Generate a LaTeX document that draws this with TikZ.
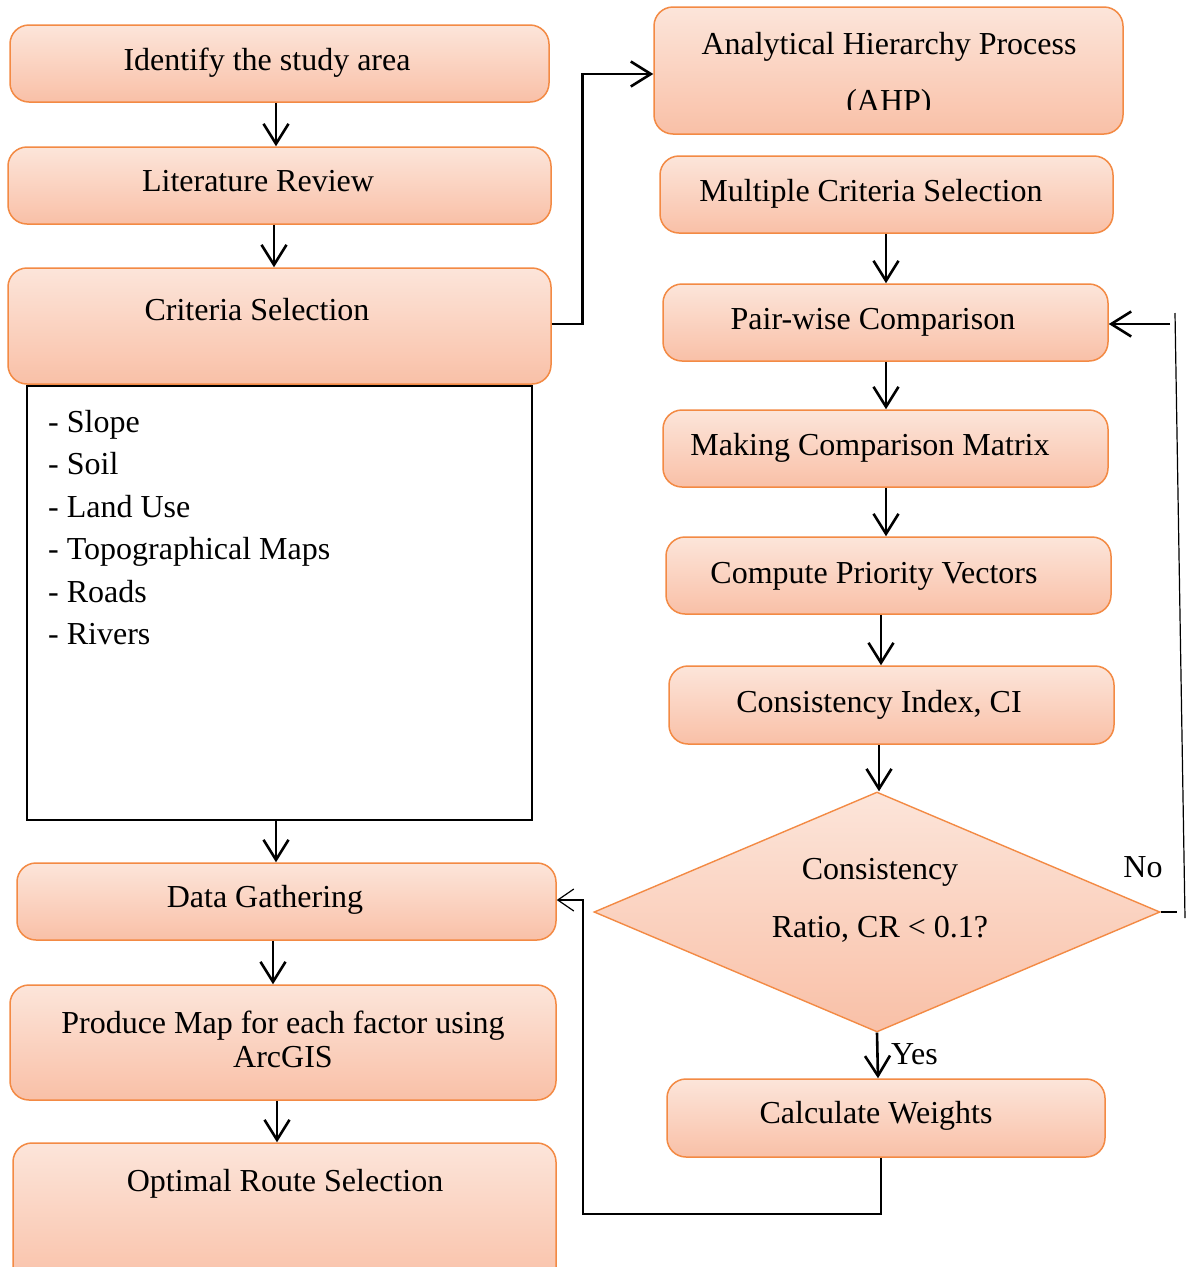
\documentclass[tikz,border=0pt]{standalone}
\usepackage{fontspec}
\setmainfont{Liberation Serif}
\usetikzlibrary{arrows.meta,shapes.geometric}
\definecolor{boxtop}{RGB}{252,229,218}
\definecolor{boxbot}{RGB}{249,192,167}
\definecolor{boxline}{RGB}{243,138,68}

\begin{document}
\begin{tikzpicture}[x=1pt,y=-1pt,
  box/.style={draw=boxline, line width=1.5pt, rounded corners=19pt,
    top color=boxtop, bottom color=boxbot, inner sep=0pt},
  decision/.style={diamond, draw=boxline, line width=1.4pt,
    top color=boxtop, bottom color=boxbot, inner sep=0pt},
  listbox/.style={draw=black, line width=2.2pt, inner sep=0pt},
  txt/.style={font=\fontsize{32}{38}\selectfont, inner sep=0pt, text=black},
  arr/.style={-{Straight Barb[length=20pt,width=25pt]}, line width=2.6pt, black},
  thinarr/.style={-{Straight Barb[length=16pt,width=22pt]}, line width=1.2pt, black},
  thinline/.style={line width=1.2pt, black}]

\useasboundingbox (0,0) rectangle (1192,1267);
\fill[white] (0,0) rectangle (1192,1267);

% ---------- left column ----------
\node[box, minimum width=539, minimum height=77] (b1) at (279.5,63.5) {};
\node[txt, anchor=base] (b1t) at (267,70) {Identify the study area};

\node[box, minimum width=543, minimum height=77] (b2) at (279.5,185.5) {};
\node[txt, anchor=base] (b2t) at (258,191) {Literature Review};

\node[box, minimum width=543, minimum height=116] (b3) at (279.5,326) {};
\node[txt, anchor=base] (b3t) at (257,320) {Criteria Selection};

\node[listbox, minimum width=505, minimum height=434] (lst) at (279.5,603) {};
\node[txt, anchor=north west, align=left, font=\fontsize{32}{42.4}\selectfont]
  (lstt) at (48,410) {- Slope\\- Soil\\- Land Use\\- Topographical Maps\\- Roads\\- Rivers};

\node[box, minimum width=539, minimum height=77] (b4) at (286.5,901.5) {};
\node[txt, anchor=base] (b4t) at (265,907) {Data Gathering};

\node[box, minimum width=546, minimum height=115] (b5) at (283,1042.5) {};
\node[txt, align=center, font=\fontsize{32}{34}\selectfont] (b5t) at (283,1039)
  {Produce Map for each factor using\\ArcGIS};

\node[box, minimum width=543, minimum height=147] (b6) at (284.5,1216.5) {};
\node[txt, anchor=base] (b6t) at (285,1191) {Optimal Route Selection};

% ---------- right column ----------
\node[box, minimum width=469, minimum height=127] (ahp) at (888.5,70.5) {};
\begin{scope}
  \clip (654,7) rectangle (1123,109);
  \node[txt, anchor=north, align=center, font=\fontsize{32}{57}\selectfont]
    (ahpt) at (889,32) {Analytical Hierarchy Process\\(AHP)};
\end{scope}

\node[box, minimum width=453, minimum height=77] (mcs) at (886.5,194.5) {};
\node[txt, anchor=base] (mcst) at (871,201) {Multiple Criteria Selection};

\node[box, minimum width=445, minimum height=77] (pair) at (885.5,322.5) {};
\node[txt, anchor=base] (pairt) at (873,329) {Pair-wise Comparison};

\node[box, minimum width=445, minimum height=77] (mat) at (885.5,448.5) {};
\node[txt, anchor=base] (matt) at (870,455) {Making Comparison Matrix};

\node[box, minimum width=445, minimum height=77] (vec) at (888.5,575.5) {};
\node[txt, anchor=base] (vect) at (874,583) {Compute Priority Vectors};

\node[box, minimum width=445, minimum height=78] (ci) at (891.5,705) {};
\node[txt, anchor=base] (cit) at (879,712) {Consistency Index, CI};

\node[decision, minimum width=566, minimum height=240] (dia) at (877,912) {};
\node[txt, anchor=north, align=center, font=\fontsize{32}{58}\selectfont]
  (diat) at (880,858) {Consistency\\Ratio, CR < 0.1?};

\node[box, minimum width=438, minimum height=78] (cw) at (886,1118) {};
\node[txt, anchor=base] (cwt) at (876,1123) {Calculate Weights};

% ---------- connectors ----------
\draw[arr] ([xshift=-3.5]b1.south) -- ([xshift=-3.5]b2.north);
\draw[arr] ([xshift=-5.5]b2.south) -- ([xshift=-5.5]b3.north);
\draw[arr] ([xshift=-3.5]lst.south) -- ([xshift=-10.5]b4.north);
\draw[arr] ([xshift=-13.5]b4.south) -- ([xshift=-10]b5.north);
\draw[arr] ([xshift=-6]b5.south) -- ([xshift=-7.5]b6.north);

\draw[arr] ([yshift=2]b3.east) -- ++(31,0) |- ([yshift=-3.5]ahp.west);

\draw[arr] ([xshift=-0.5]mcs.south) -- ([xshift=0.5]pair.north);
\draw[arr] ([xshift=0.5]pair.south) -- ([xshift=0.5]mat.north);
\draw[arr] ([xshift=0.5]mat.south) -- ([xshift=-2.5]vec.north);
\draw[arr] ([xshift=-7.5]vec.south) -- ([xshift=-10.5]ci.north);
\draw[arr] ([xshift=-12.5]ci.south) -- ([xshift=2]dia.north);
\draw[arr] (dia.south) -- ([xshift=-8]cw.north);
\node[txt, anchor=base west] (yes) at (891,1064) {Yes};

% "Yes" branch back to data gathering
\coordinate (yc) at (583,1214);
\draw[thinarr] ([xshift=-5]cw.south) |- (yc) |- ([yshift=1.5]b4.east);

% "No" branch back to pair-wise comparison
\coordinate (n1) at (1177,912);
\coordinate (n2) at (1175,313);
\coordinate (n3) at (1185,918);
\coordinate (n4) at (1170,324);
\draw[thinline] (dia.east) -- (n1);
\draw[thinline] (n2) -- (n3);
\draw[arr] (n4) -- ([yshift=-1.5]pair.east);
\node[txt, anchor=base] (no) at (1143,877) {No};

\end{tikzpicture}
\end{document}
